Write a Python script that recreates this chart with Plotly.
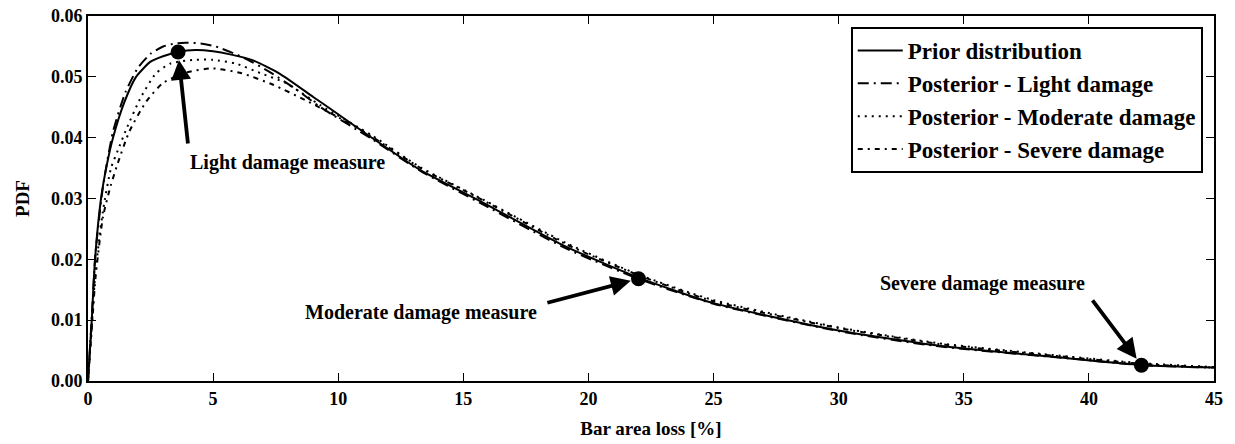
import plotly.graph_objects as go

# ---- data ----
x_prior = [0, 0.15, 0.28, 0.52, 0.75, 1.0, 1.45, 1.92, 2.5, 3.0, 3.6, 4.3, 5.0, 5.68, 6.6,
           7.67, 9.0, 9.67, 11.27, 13.27, 15.8, 19.1, 22.0, 25.0, 30.0, 34.0, 39.25, 42.2, 45.0]
prior = [0, 0.010, 0.020, 0.030, 0.0355, 0.040, 0.0458, 0.050, 0.0525, 0.0534, 0.0541, 0.0544,
         0.0542, 0.0537, 0.0527, 0.0505, 0.0467, 0.0448, 0.0402, 0.0347, 0.0293, 0.0221,
         0.0170, 0.0128, 0.0083, 0.0058, 0.0037, 0.0026, 0.0022]

x_light = [0, 0.15, 0.3, 0.6, 1.0, 1.5, 2.0, 2.5, 3.0, 3.5, 3.9, 4.5, 5.1, 6.2, 7.3, 8.3,
           9.3, 11.3, 13.3, 15.8, 19.1, 22.0, 25.0, 30.0, 34.0, 39.25, 42.2, 45.0]
light = [0, 0.0105, 0.021, 0.032, 0.041, 0.0475, 0.0515, 0.0538, 0.0550, 0.0555, 0.0556,
         0.0555, 0.0550, 0.0532, 0.0507, 0.0480, 0.0450, 0.0399, 0.0345, 0.0290, 0.0218,
         0.0168, 0.0127, 0.0082, 0.0057, 0.0037, 0.0026, 0.0022]

x_moderate = [0, 0.15, 0.3, 0.6, 0.92, 1.25, 1.52, 2.12, 2.72, 3.3, 4.2, 5.0, 5.9, 6.9, 7.9,
              9.3, 11.3, 13.3, 15.8, 19.1, 22.0, 25.0, 30.0, 34.0, 39.25, 42.2, 45.0]
moderate = [0, 0.009, 0.018, 0.028, 0.0350, 0.0385, 0.0413, 0.0467, 0.0506, 0.0522, 0.0528,
            0.0528, 0.0522, 0.0506, 0.0490, 0.0453, 0.0405, 0.0351, 0.0298, 0.0227, 0.0175,
            0.0133, 0.0088, 0.0062, 0.0040, 0.0029, 0.0023]

x_severe = [0, 0.15, 0.3, 0.6, 0.9, 1.19, 1.65, 2.32, 3.0, 4.0, 4.98, 6.14, 7.4, 8.67, 9.94,
            11.3, 13.3, 15.8, 19.1, 22.0, 25.0, 30.0, 34.0, 39.25, 42.2, 45.0]
severe = [0, 0.0085, 0.017, 0.027, 0.032, 0.0358, 0.0410, 0.0459, 0.0490, 0.0508, 0.0514,
          0.0506, 0.0487, 0.0462, 0.0435, 0.0403, 0.0350, 0.0297, 0.0225, 0.0174, 0.0131,
          0.0087, 0.0061, 0.0039, 0.0028, 0.0022]

series_names = ["Prior distribution", "Posterior - Light damage",
                "Posterior - Moderate damage", "Posterior - Severe damage"]

measure_labels = ["Light damage measure", "Moderate damage measure", "Severe damage measure"]
measure_x = [3.6, 22.0, 42.1]
measure_y = [0.0541, 0.0168, 0.0026]
arrow_tail_x = [4.0, 18.3, 40.1]
arrow_tail_y = [0.0388, 0.0128, 0.0135]
label_x = [7.99, 13.3, 35.73]
label_y = [0.0360, 0.0113, 0.0161]

x_ticks = [0, 5, 10, 15, 20, 25, 30, 35, 40, 45]
y_ticks = [0.00, 0.01, 0.02, 0.03, 0.04, 0.05, 0.06]
y_tick_text = ["0.00", "0.01", "0.02", "0.03", "0.04", "0.05", "0.06"]

FONT = "Liberation Serif"

fig = go.Figure()
styles = [
    (x_prior, prior, "solid"),
    (x_light, light, "11px,5px,2px,5px"),
    (x_moderate, moderate, "2px,5px"),
    (x_severe, severe, "5px,5px,2px,5px"),
]
for i, ((xs, ys, dash), name) in enumerate(zip(styles, series_names)):
    fig.add_trace(go.Scatter(
        x=xs, y=ys, mode="lines", name=name, legendgroup=f"g{i}",
        line=dict(color="black", width=2, dash=dash, shape="spline", smoothing=0.6),
    ))

fig.add_trace(go.Scatter(
    x=measure_x, y=measure_y, mode="markers", showlegend=False,
    marker=dict(color="black", size=15, symbol="circle"),
))

annotations = []
for hx, hy, tx, ty in zip(measure_x, measure_y, arrow_tail_x, arrow_tail_y):
    annotations.append(dict(
        x=hx, y=hy, xref="x", yref="y", ax=tx, ay=ty, axref="x", ayref="y",
        text="", showarrow=True, arrowhead=2, arrowsize=1.05, arrowwidth=3.8,
        arrowcolor="black", standoff=8,
    ))
for lx, ly, txt in zip(label_x, label_y, measure_labels):
    annotations.append(dict(
        x=lx, y=ly, xref="x", yref="y", text=txt, showarrow=False,
        font=dict(family=FONT, size=20, color="black", weight="bold"),
        xanchor="center", yanchor="middle",
    ))

axis_common = dict(
    showline=True, linewidth=2, linecolor="black", mirror="allticks",
    ticks="inside", ticklen=8, tickwidth=1.3, tickcolor="black",
    showgrid=False, zeroline=False, automargin=False,
    tickfont=dict(family=FONT, size=18, color="black", weight="bold"),
)

fig.update_layout(
    width=1235, height=444,
    margin=dict(l=88, r=21, t=16, b=63),
    paper_bgcolor="white", plot_bgcolor="white",
    font=dict(family=FONT, color="black", weight="bold"),
    xaxis=dict(range=[0, 45.0001], tickvals=x_ticks, ticktext=[str(v) for v in x_ticks],
               title=dict(text="Bar area loss [%]", standoff=14,
                          font=dict(family=FONT, size=19, color="black", weight="bold")),
               **axis_common),
    yaxis=dict(range=[0, 0.06001], tickvals=y_ticks, ticktext=y_tick_text,
               title=dict(text="PDF", standoff=16,
                          font=dict(family=FONT, size=19, color="black", weight="bold")),
               **axis_common),
    legend=dict(
        x=0.990, y=0.97, xanchor="right", yanchor="top",
        bgcolor="white", bordercolor="black", borderwidth=2,
        font=dict(family=FONT, size=23, color="black", weight="bold"),
        tracegroupgap=0, itemwidth=45,
    ),
    annotations=annotations,
    showlegend=True,
)

fig.write_html("out.html", config={"displayModeBar": False},
               post_script="document.body.style.margin='0';")
